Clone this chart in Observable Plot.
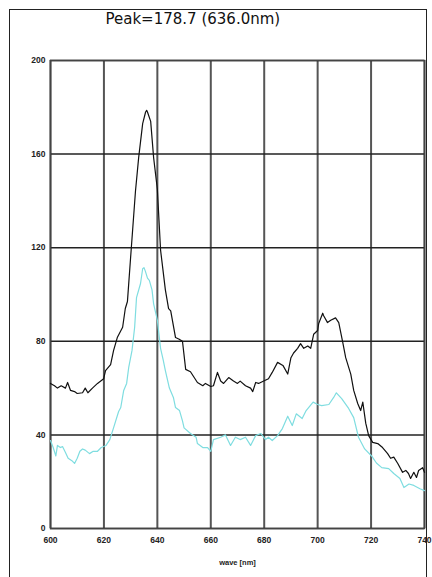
<!DOCTYPE html>
<html><head><meta charset="utf-8">
<script src="https://cdn.jsdelivr.net/npm/d3@7"></script>
<script src="https://cdn.jsdelivr.net/npm/@observablehq/plot@0.6"></script>
<style>
html,body{margin:0;padding:0;background:#fff;overflow:hidden;width:432px;height:577px}
#wrap{position:relative;width:432px;height:577px}
#border{position:absolute;left:9px;top:9px;width:418px;height:600px;border:1.5px solid #222;box-sizing:border-box;pointer-events:none}
#chart{position:absolute;left:0;top:0}
</style></head>
<body><div id="wrap"><div id="chart"></div><div id="border"></div></div>
<script>
const titleText = "Peak=178.7 (636.0nm)";
const xLabel = "wave [nm]";
const xTicks = [600, 620, 640, 660, 680, 700, 720, 740];
const yTicks = [0, 40, 80, 120, 160, 200];

const blackNm = [600,601.5,602.6,604,605.6,606.4,607.5,609,610,612,613,614,615.7,617.6,619.9,620.6,622.5,623.6,625,627,628,628.8,630,631.8,633,634.5,635.6,636,636.3,637.5,638.6,640,641.2,643,644.2,645,646.8,648,649.4,650.6,652.4,655,657,658,660,661,662.5,663.7,664.8,666.7,668.5,670,671,673,674.9,675.7,676.8,677.9,679.8,681.6,683,685,687,688.8,690,691,692.5,693.6,694.8,696.3,697.4,698.5,700,700.4,701.9,702.2,703.7,704.9,706.7,707.9,709.4,710.5,712.4,713.5,715,716.1,716.9,718,719.1,720.6,722.5,724.3,726.2,727.3,728.5,730,731.8,733,734,734.8,736,737,737.8,739.3,740];
const blackVal = [62,61,60,61,60,62.4,59,58.5,57.7,58,60,58,60,62,64,67.5,70,76,81.6,86,94,97,116,144,158.5,173,178,178.7,178,174,158.5,145,119,102,94,93,81.6,81,80,68,67,62.4,61,62,60.7,61,66.7,63,62,64.5,63,62,63,61,60,58.5,62.4,62,63,64,66.7,71,69.7,66,73,75,77,79,77,78,77,83,84.6,87.6,92,91,88,89,90,88,79.5,73,66,59,53.4,50.4,54,45,39.7,36.8,36.3,34.6,32,30,30.5,27.8,24,24.8,23.5,21.4,24,21.8,24.8,26,24];

const cyanNm = [600,601,602,602.6,603.7,604.5,605.6,606.6,608,609,610,611,612,613,614.6,616,617.6,619,620.8,622.2,623.6,625.5,626.3,627.4,628.5,629.3,630.5,631.5,632.2,633.7,634.5,635,635.5,636.3,637,638,638.6,640,641.2,642.2,643,644.5,646,646.8,648.3,649.4,650,652.4,654.5,655,657,658.8,660,661,663.7,665.5,667.4,669.2,671,673,674.9,676.8,678.7,680.5,681.6,683,685,686.8,688.8,690.5,692,694.2,695.7,698.3,700,701.5,704.2,706,707,709,711.6,713.5,715.3,717.6,720.2,722,724,726.6,728.5,730.8,732.3,734.2,736,738.3,740];
const cyanVal = [37.6,34.6,31,35.5,34.6,35,32.5,30,29,27.8,30,33,34,33.5,32,33,33,34.6,35.5,38,43,50,51.7,59,62,69,76,86,98.7,104.7,111,111.5,110,107,106,102,96,89,77,72,67.5,60,56,51.7,50.4,46,43,40.6,39,36.3,34.6,34.6,33,38,39,40,35.5,39,38,39,35.5,39.7,40.6,38,39,37.6,39.7,42.7,48,44,49,47,50.4,54,53,52.5,53,56,58,55.5,51.3,47.4,39,34,31,28,26,25.6,23.5,21.4,17.5,19,18.4,17,16.2];

const black = blackNm.map((x, i) => ({x, y: blackVal[i]}));
const cyan = cyanNm.map((x, i) => ({x, y: cyanVal[i]}));

const chart = Plot.plot({
  width: 432,
  height: 577,
  marginLeft: 50,
  marginRight: 8,
  marginTop: 60,
  marginBottom: 49,
  style: {fontFamily: "Liberation Sans, Arial, sans-serif", background: "#fff", color: "#111"},
  x: {domain: [600, 740], ticks: xTicks, tickSize: 0, tickPadding: 8, label: null, tickFormat: d => String(d)},
  y: {domain: [0, 200], ticks: yTicks, tickSize: 0, tickPadding: 6, label: null, tickFormat: d => String(d)},
  marks: [
    Plot.gridX(xTicks, {stroke: "#555", strokeWidth: 2, strokeOpacity: 1}),
    Plot.gridY(yTicks, {stroke: "#222", strokeWidth: 1.5, strokeOpacity: 1}),
    Plot.frame({stroke: "#444", strokeWidth: 1.5}),
    Plot.axisX(xTicks, {tickSize: 0, tickPadding: 8, fontSize: 8.5, fontWeight: "bold", label: null, fill: "#222"}),
    Plot.axisY(yTicks, {tickSize: 0, tickPadding: 5, fontSize: 8.5, fontWeight: "bold", label: null, fill: "#222"}),
    Plot.line(cyan, {x: "x", y: "y", stroke: "#7fdde0", strokeWidth: 1.2}),
    Plot.line(black, {x: "x", y: "y", stroke: "#111", strokeWidth: 1.2}),
    Plot.text([titleText], {frameAnchor: "top-left", dx: 55, dy: -41, textAnchor: "start", lineAnchor: "middle", fontSize: 15, fill: "#111", fontFamily: "DejaVu Sans, sans-serif"}),
    Plot.text([xLabel], {frameAnchor: "bottom", dy: 34, lineAnchor: "middle", fontSize: 7.5, fontWeight: "bold", fill: "#222"})
  ]
});
document.getElementById("chart").appendChild(chart);
</script>
</body></html>
